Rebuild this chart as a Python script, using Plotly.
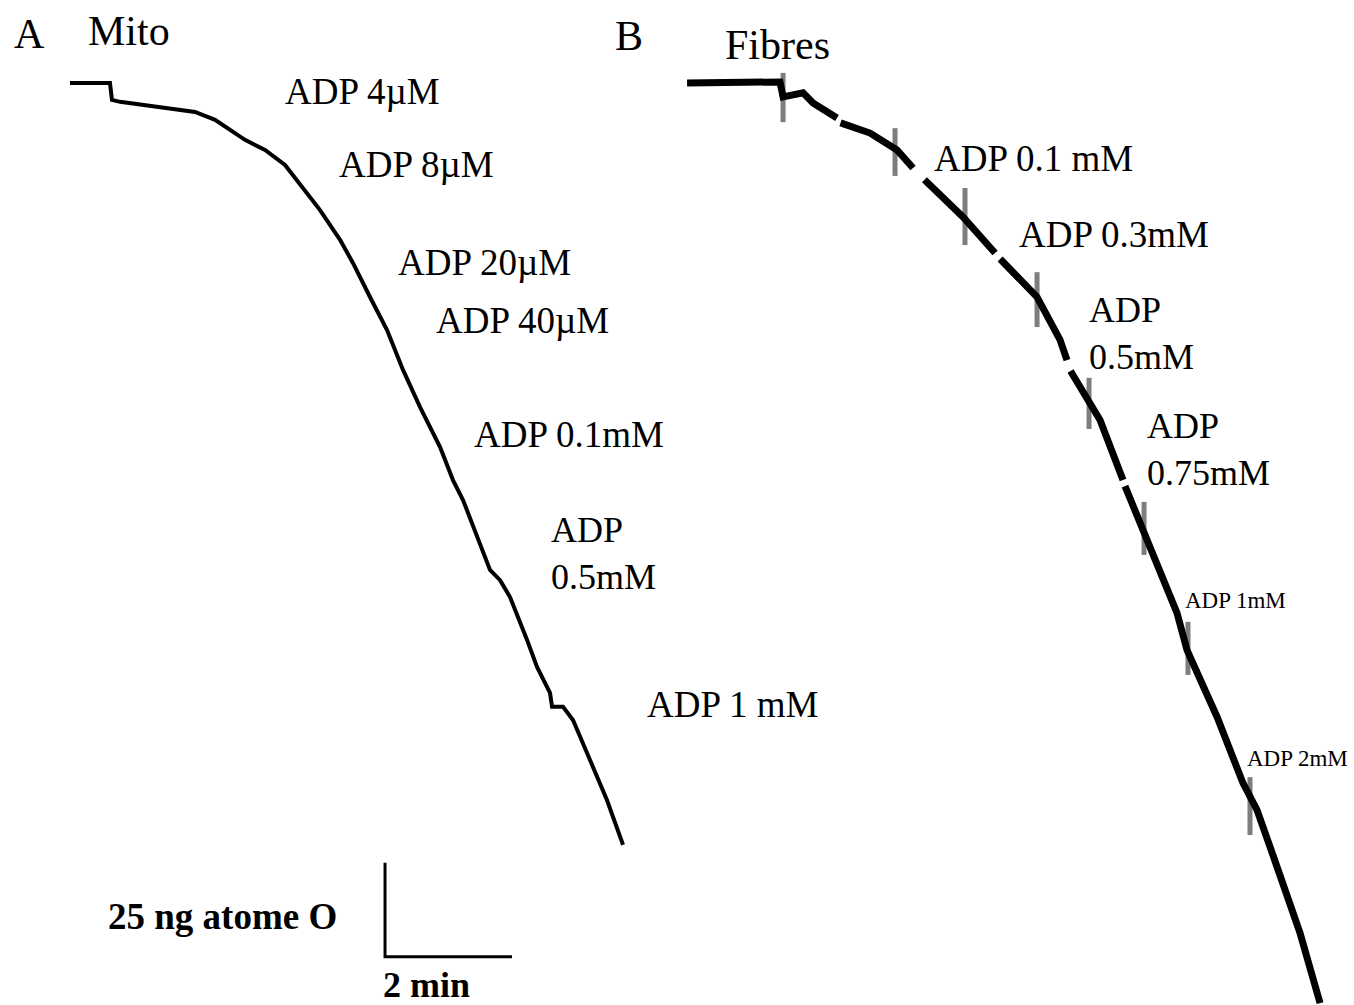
import plotly.graph_objects as go

W, H = 1354, 1005

# ---- Data (time in s, O2 in ng atome O) ----

# Trace A: isolated mitochondria
mito_t = [66.1, 103.9, 105.8, 113.4, 184.3, 203.2, 231.5, 250.4, 269.3, 292.9,
          302.4, 321.3, 333.6, 349.6, 365.7, 380.8, 396.9, 415.8, 428.0, 437.5,
          463.0, 472.5, 481.9, 498.0, 507.4, 519.7, 521.6, 532.0, 541.4, 554.7,
          573.5, 588.7]
mito_o2 = [245.2, 245.2, 240.7, 240.2, 237.5, 235.4, 230.1, 227.4, 223.4, 214.9,
           211.4, 203.5, 197.3, 188.3, 179.5, 168.9, 159.0, 148.4, 139.6, 134.3,
           115.7, 113.0, 108.5, 97.1, 89.9, 83.0, 79.3, 79.3, 75.8, 67.0,
           54.5, 42.6]

# Trace B: permeabilised fibres (None = break in the recorder trace)
fibres_t = [649.2, 737.0, 739.9, 758.8, 768.2, 790.9, None,
            794.2, 822.1, 847.6, 862.7, None,
            873.5, 909.9, 940.2, None,
            945.0, 979.9, 1001.6, 1008.2, None,
            1011.5, 1039.4, 1061.1, None,
            1063.0, 1086.6, 1112.1, 1121.6, 1133.9, 1150.0, 1174.5, 1187.7,
            1206.7, 1228.4, 1247.3]
fibres_o2 = [245.2, 245.5, 241.5, 242.6, 239.9, 235.9, None,
             234.6, 231.9, 227.4, 222.6, None,
             219.5, 209.6, 200.0, None,
             198.4, 188.3, 176.9, 171.5, None,
             168.6, 155.6, 139.6, None,
             138.0, 121.8, 104.3, 94.4, 86.4, 76.6, 59.0, 51.9,
             36.7, 19.1, 0.5]

# injection marks on trace B (time, top O2, bottom O2)
inj_t = [739.9, 845.7, 911.8, 979.9, 1029.0, 1081.0, 1122.5, 1181.1]
inj_top = [247.9, 233.2, 217.3, 194.9, 166.8, 133.8, 101.9, 60.6]
inj_bot = [234.8, 220.5, 202.1, 180.3, 153.2, 119.7, 87.8, 45.2]

# scale bar
SCALE_T = 120      # 2 min
SCALE_O2 = 25      # 25 ng atome O
scale_origin = (363.8, 12.8)

PX_PER_S = 127 / 120
PX_PER_O2 = 94 / 25

# ---- Labels: (text, left px, centre px, font size) ----
labels = [
    ("A", 12, 34, 42),
    ("Mito", 86, 31, 42),
    ("B", 613, 36, 42),
    ("Fibres", 723, 45, 42),
    ("ADP 4µM", 283, 91, 37),
    ("ADP 8µM", 337, 164, 37),
    ("ADP 20µM", 396, 262, 37),
    ("ADP 40µM", 434, 320, 37),
    ("ADP 0.1mM", 472, 435, 37),
    ("ADP<br>0.5mM", 549, 553, 36),
    ("ADP 1 mM", 645, 704, 37),
    ("ADP 0.1 mM", 932, 158, 37),
    ("ADP 0.3mM", 1017, 235, 37),
    ("ADP<br>0.5mM", 1087, 334, 36),
    ("ADP<br>0.75mM", 1145, 449, 36),
    ("ADP 1mM", 1183, 600, 23),
    ("ADP 2mM", 1245, 758, 23),
]
bold_labels = [
    ("25 ng atome O", 106, 916, 37),
    ("2 min", 381, 985, 36),
]

SERIF = "Liberation Serif, Times New Roman, serif"

fig = go.Figure()

fig.add_trace(go.Scatter(
    x=mito_t, y=mito_o2, mode="lines",
    line=dict(color="black", width=4), hoverinfo="skip",
))

# injection marks (grey speckle)
mark_x, mark_y = [], []
for t, a, b in zip(inj_t, inj_top, inj_bot):
    mark_x += [t, t, None]
    mark_y += [a, b, None]
fig.add_trace(go.Scatter(
    x=mark_x, y=mark_y, mode="lines",
    line=dict(color="rgba(70,70,70,0.7)", width=5), hoverinfo="skip",
))

fig.add_trace(go.Scatter(
    x=fibres_t, y=fibres_o2, mode="lines", connectgaps=False,
    line=dict(color="black", width=7), hoverinfo="skip",
))

# scale bar
t0, o0 = scale_origin
fig.add_trace(go.Scatter(
    x=[t0, t0, t0 + SCALE_T], y=[o0 + SCALE_O2, o0, o0], mode="lines",
    line=dict(color="black", width=3), hoverinfo="skip",
))

for text, px, py, size in labels:
    fig.add_annotation(
        text=text, x=px / W, y=1 - py / H, xref="paper", yref="paper",
        xanchor="left", yanchor="middle", align="left", showarrow=False,
        font=dict(family=SERIF, size=size, color="black"),
    )
for text, px, py, size in bold_labels:
    fig.add_annotation(
        text=f"<b>{text}</b>", x=px / W, y=1 - py / H, xref="paper", yref="paper",
        xanchor="left", yanchor="middle", showarrow=False,
        font=dict(family=SERIF, size=size, color="black"),
    )

# bottom of the "25 ng atome O" line is cropped in the original
fig.add_shape(type="rect", xref="paper", yref="paper",
              x0=100 / W, x1=350 / W, y0=1 - 945 / H, y1=1 - 929 / H,
              fillcolor="white", line=dict(width=0), layer="above")

fig.update_layout(
    width=W, height=H, autosize=False,
    margin=dict(l=0, r=0, t=0, b=0),
    paper_bgcolor="white", plot_bgcolor="white",
    showlegend=False,
    xaxis=dict(range=[0, W / PX_PER_S], visible=False, fixedrange=True),
    yaxis=dict(range=[0, H / PX_PER_O2], visible=False, fixedrange=True),
)

fig.write_html("out.html", post_script="document.body.style.margin='0';",
               config={"displayModeBar": False})
